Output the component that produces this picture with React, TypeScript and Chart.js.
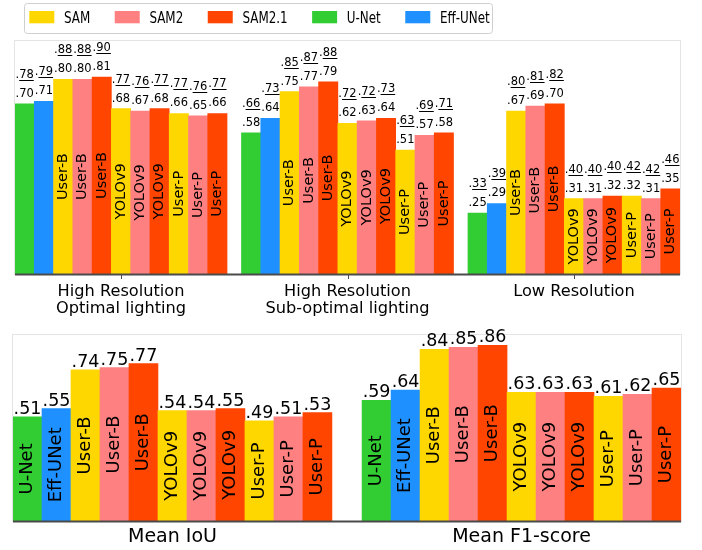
import React, { useEffect, useRef } from 'react';
import { Chart, registerables } from 'chart.js';
Chart.register(...registerables);

// ---------- data ----------
const legendLabels = ['SAM', 'SAM2', 'SAM2.1', 'U-Net', 'Eff-UNet'];
const legendColors = ['#FFD700', '#FF8080', '#FF4500', '#32CD32', '#1E90FF'];

const barModels = ['U-Net', 'Eff-UNet', 'SAM', 'SAM2', 'SAM2.1', 'SAM', 'SAM2', 'SAM2.1', 'SAM', 'SAM2', 'SAM2.1'];
const barPrompts = ['U-Net', 'Eff-UNet', 'User-B', 'User-B', 'User-B', 'YOLOv9', 'YOLOv9', 'YOLOv9', 'User-P', 'User-P', 'User-P'];

const conditionLabels = [['High Resolution', 'Optimal lighting'], ['High Resolution', 'Sub-optimal lighting'], ['Low Resolution']];
const iouHighOptimal = [0.70, 0.71, 0.80, 0.80, 0.81, 0.68, 0.67, 0.68, 0.66, 0.65, 0.66];
const f1HighOptimal = [0.78, 0.79, 0.88, 0.88, 0.90, 0.77, 0.76, 0.77, 0.77, 0.76, 0.77];
const iouHighSubOptimal = [0.58, 0.64, 0.75, 0.77, 0.79, 0.62, 0.63, 0.64, 0.51, 0.57, 0.58];
const f1HighSubOptimal = [0.66, 0.73, 0.85, 0.87, 0.88, 0.72, 0.72, 0.73, 0.63, 0.69, 0.71];
const iouLowRes = [0.25, 0.29, 0.67, 0.69, 0.70, 0.31, 0.31, 0.32, 0.32, 0.31, 0.35];
const f1LowRes = [0.33, 0.39, 0.80, 0.81, 0.82, 0.40, 0.40, 0.40, 0.42, 0.42, 0.46];

const summaryLabels = ['Mean IoU', 'Mean F1-score'];
const meanIoU = [0.51, 0.55, 0.74, 0.75, 0.77, 0.54, 0.54, 0.55, 0.49, 0.51, 0.53];
const meanF1 = [0.59, 0.64, 0.84, 0.85, 0.86, 0.63, 0.63, 0.63, 0.61, 0.62, 0.65];

// ---------- helpers ----------
const FONT = "'DejaVu Sans', sans-serif";
const GAP_TOP = 0.75;
const GAP_BOTTOM = 1.04;

const colorOf = (m: string) => legendColors[legendLabels.indexOf(m)];
const fmt = (v: number) => v.toFixed(2).replace(/^0/, '');

function buildPoints(groups: number[][], gap: number) {
  const pts: { x: number; y: number }[] = [];
  groups.forEach((vals, g) => vals.forEach((v, i) => pts.push({ x: g * (vals.length + gap) + i + 0.5, y: v })));
  return pts;
}

function txt(ctx: CanvasRenderingContext2D, s: string, x: number, y: number, size: number,
  o: { sx?: number; rot?: boolean; align?: CanvasTextAlign; base?: CanvasTextBaseline; color?: string } = {}) {
  ctx.save();
  ctx.translate(x, y);
  ctx.scale(o.sx ?? 1, 1);
  if (o.rot) ctx.rotate(-Math.PI / 2);
  ctx.font = `${size}px ${FONT}`;
  ctx.fillStyle = o.color ?? '#000';
  ctx.textAlign = o.align ?? 'center';
  ctx.textBaseline = o.base ?? 'alphabetic';
  ctx.fillText(s, 0, 0);
  ctx.restore();
}

function measure(ctx: CanvasRenderingContext2D, s: string, size: number) {
  ctx.save();
  ctx.font = `${size}px ${FONT}`;
  const w = ctx.measureText(s).width;
  ctx.restore();
  return w;
}

function drawFrame(chart: any) {
  const { ctx, chartArea: a } = chart;
  ctx.save();
  ctx.strokeStyle = '#e4e4e4';
  ctx.lineWidth = 1;
  ctx.strokeRect(a.left - 0.5, a.top - 0.5, a.right - a.left + 1, a.bottom - a.top + 1);
  ctx.restore();
}

function drawAxis(chart: any, centers: number[], tick: boolean) {
  const { ctx, chartArea: a } = chart;
  ctx.save();
  ctx.strokeStyle = '#4a4a4a';
  ctx.lineWidth = 1.8;
  ctx.beginPath();
  ctx.moveTo(a.left, a.bottom + 0.5);
  ctx.lineTo(a.right, a.bottom + 0.5);
  ctx.stroke();
  if (tick) {
    ctx.lineWidth = 1;
    const xs = chart.scales.x;
    centers.forEach((c) => {
      const px = Math.round(xs.getPixelForValue(c)) + 0.5;
      ctx.beginPath();
      ctx.moveTo(px, a.bottom + 1);
      ctx.lineTo(px, a.bottom + 5);
      ctx.stroke();
    });
  }
  ctx.restore();
}

const topGroupsIoU = [iouHighOptimal, iouHighSubOptimal, iouLowRes];
const topGroupsF1 = [f1HighOptimal, f1HighSubOptimal, f1LowRes];

const topPlugin = {
  id: 'topDecor',
  beforeDatasetsDraw(chart: any) { drawFrame(chart); },
  afterDatasetsDraw(chart: any) {
    const ctx: CanvasRenderingContext2D = chart.ctx;
    const n = barModels.length;
    const centers = conditionLabels.map((_, g) => g * (n + GAP_TOP) + n / 2);
    drawAxis(chart, centers, true);
    const xs = chart.scales.x;
    centers.forEach((c, g) => {
      const px = xs.getPixelForValue(c);
      conditionLabels[g].forEach((line, k) => txt(ctx, line, px, 296 + k * 17, 16.2, { sx: 1.0 }));
    });
    const meta = chart.getDatasetMeta(0);
    const iouFlat = topGroupsIoU.flat();
    const f1Flat = topGroupsF1.flat();
    const vs = 11.5;
    meta.data.forEach((bar: any, idx: number) => {
      const i = idx % n;
      const x = bar.x;
      txt(ctx, fmt(iouFlat[idx]), x, bar.y - 7, vs);
      const f1s = fmt(f1Flat[idx]);
      const yb = bar.y - 26;
      txt(ctx, f1s, x, yb, vs);
      const W = measure(ctx, f1s, vs);
      const d = measure(ctx, '.', vs);
      ctx.save();
      ctx.strokeStyle = '#000';
      ctx.lineWidth = 1;
      ctx.beginPath();
      ctx.moveTo(x - W / 2 + d, Math.round(yb + 2) + 0.5);
      ctx.lineTo(x + W / 2, Math.round(yb + 2) + 0.5);
      ctx.stroke();
      ctx.restore();
      if (i >= 2) {
        txt(ctx, barPrompts[i], x, (bar.y + bar.base) / 2, 14.5, { rot: true, base: 'middle' });
      }
    });
  },
  afterDraw(chart: any) {
    const ctx: CanvasRenderingContext2D = chart.ctx;
    ctx.save();
    ctx.fillStyle = '#fff';
    ctx.strokeStyle = '#cfcfcf';
    ctx.lineWidth = 1;
    ctx.beginPath();
    (ctx as any).roundRect(24.5, 3.5, 468, 30, 3);
    ctx.fill();
    ctx.stroke();
    ctx.restore();
    const size = 16;
    const sx = 0.745;
    let x = 29.3;
    legendLabels.forEach((lab, k) => {
      ctx.fillStyle = legendColors[k];
      ctx.fillRect(x, 11, 25, 12.3);
      txt(ctx, lab, x + 34.7, 22.7, size, { sx, align: 'left' });
      x += 34.7 + measure(ctx, lab, size) * sx + 24.5;
    });
  },
};

const bottomGroups = [meanIoU, meanF1];

const bottomPlugin = {
  id: 'bottomDecor',
  beforeDatasetsDraw(chart: any) { drawFrame(chart); },
  afterDatasetsDraw(chart: any) {
    const ctx: CanvasRenderingContext2D = chart.ctx;
    const n = barModels.length;
    const centers = summaryLabels.map((_, g) => g * (n + GAP_BOTTOM) + n / 2);
    drawAxis(chart, centers, false);
    const xs = chart.scales.x;
    centers.forEach((c, g) => {
      txt(ctx, summaryLabels[g], xs.getPixelForValue(c), 222, 19);
    });
    const meta = chart.getDatasetMeta(0);
    const flat = bottomGroups.flat();
    meta.data.forEach((bar: any, idx: number) => {
      const i = idx % n;
      txt(ctx, fmt(flat[idx]), bar.x, bar.y - 3, 17.5);
      txt(ctx, barPrompts[i], bar.x, (bar.y + bar.base) / 2, 18, { rot: true, base: 'middle' });
    });
  },
};

function makeConfig(points: any[], colors: string[], max: number, xmax: number, padding: any, plugin: any) {
  return {
    type: 'bar' as const,
    data: {
      datasets: [{
        data: points,
        backgroundColor: colors,
        borderWidth: 0,
        barPercentage: 1,
        categoryPercentage: 1,
      }],
    },
    options: {
      responsive: false,
      animation: false as const,
      layout: { padding },
      plugins: { legend: { display: false }, tooltip: { enabled: false } },
      scales: {
        x: { type: 'linear' as const, display: false, min: 0, max: xmax, afterBuildTicks: (s: any) => { s.ticks = []; } },
        y: { display: false, min: 0, max },
      },
    },
    plugins: [plugin],
  };
}

export default function App() {
  const topRef = useRef<HTMLCanvasElement>(null);
  const botRef = useRef<HTMLCanvasElement>(null);

  useEffect(() => {
    const n = barModels.length;
    const colors = barModels.map(colorOf);
    const topPts = buildPoints(topGroupsIoU, GAP_TOP);
    const topColors = topGroupsIoU.flatMap(() => colors);
    const top = new Chart(topRef.current!, makeConfig(topPts, topColors, 0.958, 3 * n + 2 * GAP_TOP,
      { left: 15, right: 22, top: 41, bottom: 46 }, topPlugin) as any);
    const botPts = buildPoints(bottomGroups, GAP_BOTTOM);
    const botColors = bottomGroups.flatMap(() => colors);
    const bot = new Chart(botRef.current!, makeConfig(botPts, botColors, 0.91, 2 * n + GAP_BOTTOM,
      { left: 13, right: 21, top: 15, bottom: 29 }, bottomPlugin) as any);
    return () => { top.destroy(); bot.destroy(); };
  }, []);

  return (
    <div style={{ position: 'absolute', left: 0, top: 0, width: 702, height: 550, background: '#fff' }}>
      <canvas ref={topRef} width={702} height={320} style={{ position: 'absolute', left: 0, top: 0, width: 702, height: 320 }} />
      <canvas ref={botRef} width={702} height={230} style={{ position: 'absolute', left: 0, top: 320, width: 702, height: 230 }} />
    </div>
  );
}
